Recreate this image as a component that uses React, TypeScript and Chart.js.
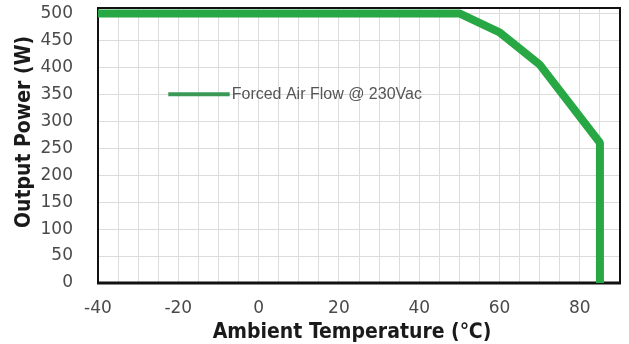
import React, { useEffect, useRef } from "react";
import { Chart, registerables } from "chart.js";

Chart.register(...registerables);

const seriesLabel = "Forced Air Flow @ 230Vac";
const temperatures = [-40, 50, 60, 70, 85, 85];
const powers = [500, 500, 465, 405, 260, 0];
const xLabeledTicks = [-40, -20, 0, 20, 40, 60, 80];
const yLabeledTicks = [0, 50, 100, 150, 200, 250, 300, 350, 400, 450, 500];
const xTitle = "Ambient Temperature (℃)";
const yTitle = "Output Power (W)";

const GREEN = "#28a745";
const TITLE_FONT = "bold 21px 'DejaVu Sans Condensed', 'DejaVu Sans'";

const frameLegendTitles = {
  id: "frameLegendTitles",
  beforeDatasetsDraw(chart: any) {
    const { ctx, chartArea } = chart;
    const { left, right, top, bottom } = chartArea;
    ctx.save();
    ctx.strokeStyle = "#111";
    ctx.lineWidth = 2;
    ctx.strokeRect(left, top, right - left, bottom - top);
    ctx.lineWidth = 3;
    ctx.beginPath();
    ctx.moveTo(left - 1, bottom);
    ctx.lineTo(right + 1, bottom);
    ctx.stroke();
    ctx.restore();
  },
  afterDatasetsDraw(chart: any) {
    const { ctx, scales } = chart;
    const xs = scales.x;
    const ys = scales.y;
    const x0 = xs.getPixelForValue(-22.5);
    const x1 = xs.getPixelForValue(-7.2);
    const y = ys.getPixelForValue(350);
    ctx.save();
    ctx.strokeStyle = "#3a9a55";
    ctx.lineWidth = 4;
    ctx.beginPath();
    ctx.moveTo(x0, y);
    ctx.lineTo(x1, y);
    ctx.stroke();
    ctx.fillStyle = "#555";
    ctx.font = "16px 'Liberation Sans'";
    ctx.textBaseline = "middle";
    ctx.textAlign = "left";
    ctx.fillText(chart.data.datasets[0].label, x1 + 2, y);
    ctx.restore();
  },
  afterDraw(chart: any) {
    const { ctx } = chart;
    ctx.save();
    ctx.fillStyle = "#1a1a1a";
    ctx.font = TITLE_FONT;
    ctx.textAlign = "center";
    ctx.textBaseline = "alphabetic";
    ctx.fillText(xTitle, 352, 338);
    ctx.translate(30, 132);
    ctx.rotate(-Math.PI / 2);
    ctx.fillText(yTitle, 0, 0);
    ctx.restore();
  },
};

export default function App() {
  const ref = useRef<HTMLCanvasElement | null>(null);
  useEffect(() => {
    if (!ref.current) return;
    const chart = new Chart(ref.current, {
      type: "line",
      data: {
        datasets: [
          {
            label: seriesLabel,
            data: temperatures.map((t, i) => ({ x: t, y: powers[i] })),
            borderColor: GREEN,
            backgroundColor: GREEN,
            borderWidth: 8,
            pointRadius: 0,
            tension: 0,
            borderJoinStyle: "bevel",
          },
        ],
      },
      options: {
        responsive: false,
        animation: false,
        layout: { padding: { top: 8, right: 9, left: 0, bottom: 0 } },
        plugins: { legend: { display: false }, tooltip: { enabled: false } },
        scales: {
          x: {
            type: "linear",
            min: -40,
            max: 90,
            border: { display: false },
            grid: { color: "#dcdcdc", lineWidth: 1, drawTicks: false },
            ticks: {
              stepSize: 5,
              autoSkip: false,
              maxRotation: 0,
              padding: 15,
              color: "#4a4a4a",
              font: { family: "'DejaVu Sans'", size: 17 },
              callback: (v: any) => {
                if (v > 85) return null;
                return xLabeledTicks.includes(v) ? String(v) : "";
              },
            },
            afterFit: (s: any) => {
              s.height = 61;
              s.paddingLeft = 0;
              s.paddingRight = 0;
            },
          },
          y: {
            min: 0,
            max: 510,
            border: { display: false },
            grid: { color: "#dcdcdc", lineWidth: 1, drawTicks: false },
            afterBuildTicks: (s: any) => {
              s.ticks = yLabeledTicks.map((v) => ({ value: v }));
            },
            ticks: {
              autoSkip: false,
              padding: 25,
              color: "#4a4a4a",
              font: { family: "'DejaVu Sans'", size: 17 },
              callback: (v: any) => String(v),
            },
            afterFit: (s: any) => {
              s.width = 98;
              s.paddingTop = 0;
              s.paddingBottom = 0;
            },
          },
        },
      },
      plugins: [frameLegendTitles],
    } as any);
    return () => chart.destroy();
  }, []);
  return (
    <div style={{ position: "fixed", left: 0, top: 0, width: 629, height: 344, background: "#fff" }}>
      <canvas ref={ref} width={629} height={344} />
    </div>
  );
}
